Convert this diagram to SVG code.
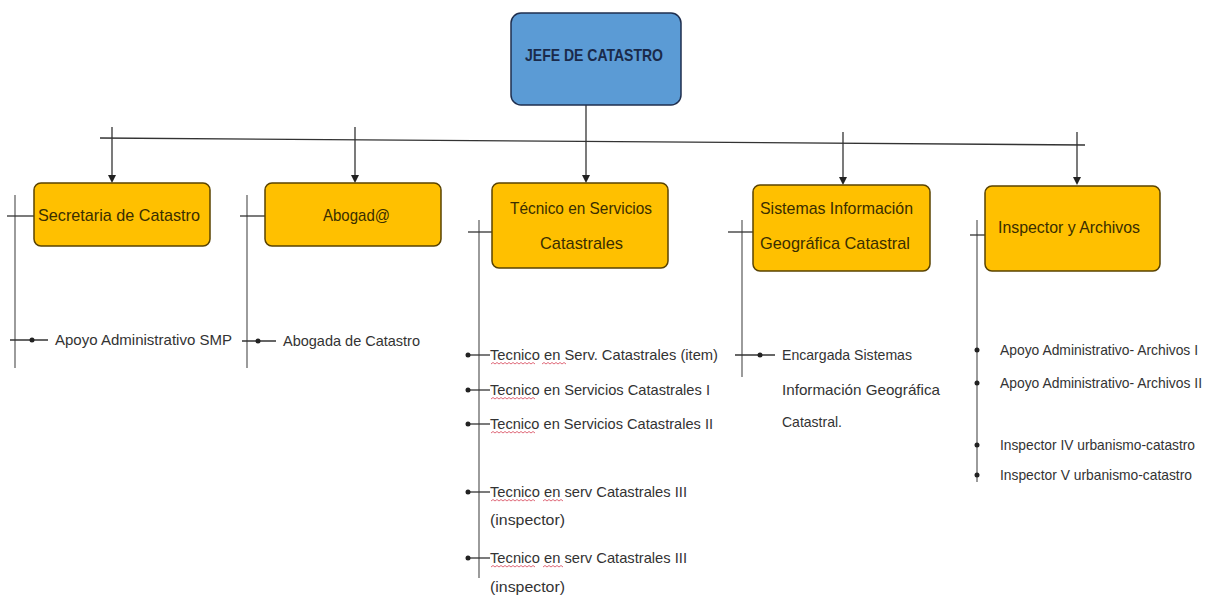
<svg xmlns="http://www.w3.org/2000/svg" width="1210" height="598" viewBox="0 0 1210 598">
<style>
.box{fill:#ffc000;stroke:#5a4300;stroke-width:1.5}
.root{fill:#5b9bd5;stroke:#1f2f4f;stroke-width:1.5}
.bt{font-family:"Liberation Sans",Arial,sans-serif;font-size:17px;fill:#3a2e00}
.rt{font-family:"Liberation Sans",Arial,sans-serif;font-size:17px;font-weight:bold;fill:#1a2a4a}
.lt{font-family:"Liberation Sans",Arial,sans-serif;font-size:14.5px;fill:#333}
.ln{stroke:#333;stroke-width:1.3;fill:none}
.gl{stroke:#666;stroke-width:1.3;fill:none}
.sq{stroke:#e06a7a;stroke-width:1;fill:none}
</style>
<g id="connectors">
<line class="ln" x1="100" y1="138" x2="1085" y2="145"/>
<line class="ln" x1="586" y1="105" x2="586" y2="177"/>
<path d="M582,175 L590,175 L586,183 Z" fill="#222"/>
<line class="ln" x1="112" y1="127" x2="112" y2="177"/>
<path d="M108,175 L116,175 L112,183 Z" fill="#222"/>
<line class="ln" x1="355" y1="127" x2="355" y2="177"/>
<path d="M351,175 L359,175 L355,183 Z" fill="#222"/>
<line class="ln" x1="843" y1="132" x2="843" y2="179"/>
<path d="M839,177 L847,177 L843,185 Z" fill="#222"/>
<line class="ln" x1="1077" y1="132" x2="1077" y2="179"/>
<path d="M1073,177 L1081,177 L1077,185 Z" fill="#222"/>
<line class="gl" x1="15" y1="195" x2="15" y2="368"/>
<line class="ln" x1="7" y1="216" x2="34" y2="216"/>
<line class="ln" x1="10" y1="340" x2="48" y2="340"/>
<circle cx="32" cy="340" r="2.5" fill="#222"/>
<line class="gl" x1="247" y1="195" x2="247" y2="368"/>
<line class="ln" x1="240" y1="216" x2="265" y2="216"/>
<line class="ln" x1="242" y1="341" x2="276" y2="341"/>
<circle cx="258" cy="341" r="2.5" fill="#222"/>
<line class="gl" x1="479" y1="220" x2="479" y2="578"/>
<line class="ln" x1="468" y1="232" x2="492" y2="232"/>
<line class="ln" x1="467" y1="355" x2="490" y2="355"/>
<circle cx="468" cy="355" r="2.5" fill="#222"/>
<line class="ln" x1="467" y1="390" x2="490" y2="390"/>
<circle cx="468" cy="390" r="2.5" fill="#222"/>
<line class="ln" x1="467" y1="424" x2="490" y2="424"/>
<circle cx="468" cy="424" r="2.5" fill="#222"/>
<line class="ln" x1="467" y1="492" x2="490" y2="492"/>
<circle cx="468" cy="492" r="2.5" fill="#222"/>
<line class="ln" x1="467" y1="558" x2="490" y2="558"/>
<circle cx="468" cy="558" r="2.5" fill="#222"/>
<line class="gl" x1="742" y1="220" x2="742" y2="377"/>
<line class="ln" x1="728" y1="232" x2="753" y2="232"/>
<line class="ln" x1="735" y1="355" x2="775" y2="355"/>
<circle cx="760" cy="355" r="2.5" fill="#222"/>
<line class="gl" x1="977" y1="220" x2="977" y2="482"/>
<line class="ln" x1="970" y1="235" x2="985" y2="235"/>
<circle cx="977" cy="350" r="2.5" fill="#222"/>
<circle cx="977" cy="383" r="2.5" fill="#222"/>
<circle cx="977" cy="445" r="2.5" fill="#222"/>
<circle cx="977" cy="475" r="2.5" fill="#222"/>
</g>
<g id="jefe">
<rect class="root" x="511" y="13" width="170" height="92" rx="10"/>
<text class="rt" x="525" y="61" textLength="138" lengthAdjust="spacingAndGlyphs">JEFE DE CATASTRO</text>
</g>
<g id="secretaria">
<rect class="box" x="34" y="183" width="176" height="63" rx="7"/>
<text class="bt" x="38" y="221" textLength="162" lengthAdjust="spacingAndGlyphs">Secretaria de Catastro</text>
</g>
<g id="abogado">
<rect class="box" x="265" y="183" width="176" height="63" rx="7"/>
<text class="bt" x="323" y="221" textLength="67" lengthAdjust="spacingAndGlyphs">Abogad@</text>
</g>
<g id="tecnico">
<rect class="box" x="492" y="183" width="176" height="85" rx="7"/>
<text class="bt" x="510" y="214" textLength="142" lengthAdjust="spacingAndGlyphs">Técnico en Servicios</text>
<text class="bt" x="540" y="249" textLength="83" lengthAdjust="spacingAndGlyphs">Catastrales</text>
</g>
<g id="sistemas">
<rect class="box" x="753" y="185" width="177" height="86" rx="7"/>
<text class="bt" x="760" y="214" textLength="153" lengthAdjust="spacingAndGlyphs">Sistemas  Información</text>
<text class="bt" x="760" y="249" textLength="150" lengthAdjust="spacingAndGlyphs">Geográfica Catastral</text>
</g>
<g id="inspector">
<rect class="box" x="985" y="186" width="175" height="85" rx="7"/>
<text class="bt" x="998" y="233" textLength="142" lengthAdjust="spacingAndGlyphs">Inspector y Archivos</text>
</g>
<g id="items-secretaria">
<text class="lt" x="55" y="345" textLength="177" lengthAdjust="spacingAndGlyphs">Apoyo Administrativo SMP</text>
</g>
<g id="items-abogado">
<text class="lt" x="283" y="346" textLength="137" lengthAdjust="spacingAndGlyphs">Abogada de Catastro</text>
</g>
<g id="items-tecnico">
<text class="lt" x="490" y="360" textLength="228" lengthAdjust="spacingAndGlyphs">Tecnico en Serv. Catastrales (item)</text>
<text class="lt" x="490" y="395" textLength="220" lengthAdjust="spacingAndGlyphs">Tecnico en Servicios Catastrales I</text>
<text class="lt" x="490" y="429" textLength="223" lengthAdjust="spacingAndGlyphs">Tecnico en Servicios Catastrales II</text>
<text class="lt" x="490" y="497" textLength="197" lengthAdjust="spacingAndGlyphs">Tecnico en serv Catastrales III</text>
<text class="lt" x="490" y="525" textLength="75" lengthAdjust="spacingAndGlyphs">(inspector)</text>
<text class="lt" x="490" y="563" textLength="197" lengthAdjust="spacingAndGlyphs">Tecnico en serv Catastrales III</text>
<text class="lt" x="490" y="592" textLength="75" lengthAdjust="spacingAndGlyphs">(inspector)</text>
<path class="sq" d="M491,364 l2,-1.5 l2,1.5 l2,-1.5 l2,1.5 l2,-1.5 l2,1.5 l2,-1.5 l2,1.5 l2,-1.5 l2,1.5 l2,-1.5 l2,1.5 l2,-1.5 l2,1.5 l2,-1.5 l2,1.5 l2,-1.5 l2,1.5 l2,-1.5 l2,1.5 l2,-1.5 l2,1.5"/>
<path class="sq" d="M542,364 l2,-1.5 l2,1.5 l2,-1.5 l2,1.5 l2,-1.5 l2,1.5 l2,-1.5 l2,1.5 l2,-1.5 l2,1.5 l2,-1.5 l2,1.5"/>
<path class="sq" d="M491,399 l2,-1.5 l2,1.5 l2,-1.5 l2,1.5 l2,-1.5 l2,1.5 l2,-1.5 l2,1.5 l2,-1.5 l2,1.5 l2,-1.5 l2,1.5 l2,-1.5 l2,1.5 l2,-1.5 l2,1.5 l2,-1.5 l2,1.5 l2,-1.5 l2,1.5 l2,-1.5 l2,1.5"/>
<path class="sq" d="M491,433 l2,-1.5 l2,1.5 l2,-1.5 l2,1.5 l2,-1.5 l2,1.5 l2,-1.5 l2,1.5 l2,-1.5 l2,1.5 l2,-1.5 l2,1.5 l2,-1.5 l2,1.5 l2,-1.5 l2,1.5 l2,-1.5 l2,1.5 l2,-1.5 l2,1.5 l2,-1.5 l2,1.5"/>
<path class="sq" d="M491,501 l2,-1.5 l2,1.5 l2,-1.5 l2,1.5 l2,-1.5 l2,1.5 l2,-1.5 l2,1.5 l2,-1.5 l2,1.5 l2,-1.5 l2,1.5 l2,-1.5 l2,1.5 l2,-1.5 l2,1.5 l2,-1.5 l2,1.5 l2,-1.5 l2,1.5 l2,-1.5 l2,1.5"/>
<path class="sq" d="M543,501 l2,-1.5 l2,1.5 l2,-1.5 l2,1.5 l2,-1.5 l2,1.5 l2,-1.5 l2,1.5 l2,-1.5 l2,1.5"/>
<path class="sq" d="M491,567 l2,-1.5 l2,1.5 l2,-1.5 l2,1.5 l2,-1.5 l2,1.5 l2,-1.5 l2,1.5 l2,-1.5 l2,1.5 l2,-1.5 l2,1.5 l2,-1.5 l2,1.5 l2,-1.5 l2,1.5 l2,-1.5 l2,1.5 l2,-1.5 l2,1.5 l2,-1.5 l2,1.5"/>
<path class="sq" d="M543,567 l2,-1.5 l2,1.5 l2,-1.5 l2,1.5 l2,-1.5 l2,1.5 l2,-1.5 l2,1.5 l2,-1.5 l2,1.5"/>
</g>
<g id="items-sistemas">
<text class="lt" x="782" y="360" textLength="130" lengthAdjust="spacingAndGlyphs">Encargada Sistemas</text>
<text class="lt" x="782" y="395" textLength="158" lengthAdjust="spacingAndGlyphs">Información Geográfica</text>
<text class="lt" x="782" y="427" textLength="60" lengthAdjust="spacingAndGlyphs">Catastral.</text>
</g>
<g id="items-inspector">
<text class="lt" x="1000" y="355" textLength="198" lengthAdjust="spacingAndGlyphs">Apoyo Administrativo- Archivos I</text>
<text class="lt" x="1000" y="388" textLength="202" lengthAdjust="spacingAndGlyphs">Apoyo Administrativo- Archivos II</text>
<text class="lt" x="1000" y="450" textLength="195" lengthAdjust="spacingAndGlyphs">Inspector IV urbanismo-catastro</text>
<text class="lt" x="1000" y="480" textLength="192" lengthAdjust="spacingAndGlyphs">Inspector V urbanismo-catastro</text>
</g>
</svg>
